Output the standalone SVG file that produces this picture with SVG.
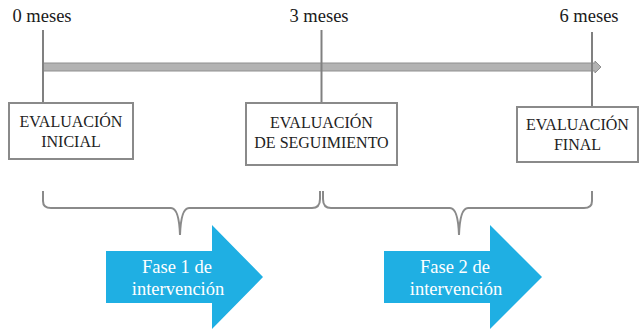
<svg xmlns="http://www.w3.org/2000/svg" width="640" height="329" viewBox="0 0 640 329">
<style>
.lbl{font-family:"Liberation Serif","Times New Roman",serif;font-size:18.5px;fill:#1a1a1a;text-anchor:middle}
.box{fill:#fff;stroke:#8a8a8a;stroke-width:2}
.btxt{font-family:"Liberation Serif","Times New Roman",serif;font-size:16px;fill:#222;text-anchor:middle}
.tick{stroke:#808080;stroke-width:2;fill:none}
.brace{stroke:#8a8a8a;stroke-width:2;fill:none}
.phase{fill:#1fafe3}
.ptxt{font-family:"Liberation Serif","Times New Roman",serif;font-size:18.5px;fill:#fff;text-anchor:middle}
</style>
<g id="timeline">
<path d="M43,63 L595,63 L595,61 L601,67 L595,73 L595,71 L43,71 Z" fill="#b3b3b3" stroke="#8f8f8f" stroke-width="1"/>
</g>
<g id="connectors">
<line class="tick" x1="43" y1="30" x2="43" y2="103"/>
<line class="tick" x1="321.5" y1="30" x2="321.5" y2="103"/>
<line class="tick" x1="592" y1="32" x2="592" y2="107"/>
<path class="brace" d="M43,191 L43,201 Q43,208 51,208 L171,208 Q179,208 180,235 Q181,208 189,208 L312,208 Q320,208 320,199 L320,191"/>
<path class="brace" d="M323,191 L323,199 Q323,208 331,208 L450,208 Q458,208 459,235 Q460,208 468,208 L584,208 Q592,208 592,201 L592,191"/>
</g>
<g id="label-0"><text class="lbl" x="42" y="22">0 meses</text></g>
<g id="label-3"><text class="lbl" x="319" y="22">3 meses</text></g>
<g id="label-6"><text class="lbl" x="589" y="22">6 meses</text></g>
<g id="eval-inicial">
<rect class="box" x="9" y="103" width="124" height="56"/>
<text class="btxt" x="71" y="127">EVALUACIÓN</text>
<text class="btxt" x="71" y="147">INICIAL</text>
</g>
<g id="eval-seguimiento">
<rect class="box" x="246" y="103" width="151" height="62"/>
<text class="btxt" x="321.5" y="128">EVALUACIÓN</text>
<text class="btxt" x="321.5" y="148">DE SEGUIMIENTO</text>
</g>
<g id="eval-final">
<rect class="box" x="517" y="107" width="121" height="55"/>
<text class="btxt" x="577.5" y="130">EVALUACIÓN</text>
<text class="btxt" x="577.5" y="150">FINAL</text>
</g>
<g id="fase-1">
<path class="phase" d="M106,251 L212,251 L212,225 L263,277 L212,329 L212,303 L106,303 Z"/>
<text class="ptxt" x="177" y="273">Fase 1 de</text>
<text class="ptxt" x="178" y="295">intervención</text>
</g>
<g id="fase-2">
<path class="phase" d="M384,251 L490,251 L490,225 L542,277 L490,329 L490,303 L384,303 Z"/>
<text class="ptxt" x="455" y="273">Fase 2 de</text>
<text class="ptxt" x="456" y="295">intervención</text>
</g>
</svg>
